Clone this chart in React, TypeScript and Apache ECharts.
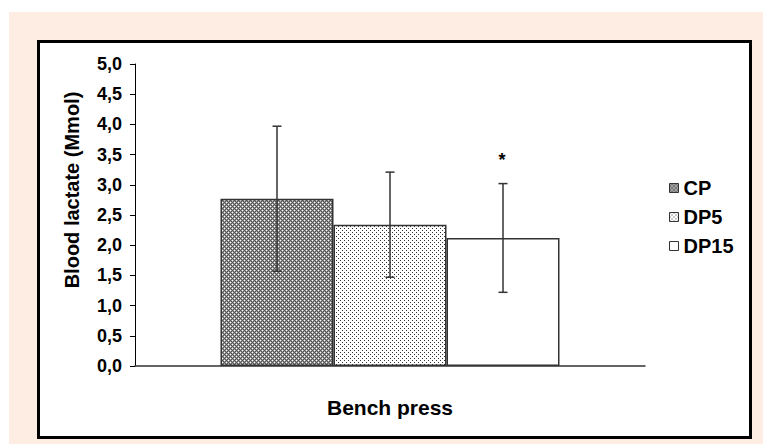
import React, { useEffect, useRef } from "react";
import * as echarts from "echarts";

const categories = ["Bench press"];
const seriesNames = ["CP", "DP5", "DP15"];
const means = [2.77, 2.34, 2.12];
const sds = [1.2, 0.87, 0.9];
const significance = ["", "", "*"];
const yMin = 0;
const yMax = 5;
const yInterval = 0.5;

const BAR_W = 113;
const FONT = '"Liberation Sans", Arial, sans-serif';

function makePattern(size: number, pix: (x: number, y: number) => string) {
  const c = document.createElement("canvas");
  c.width = size;
  c.height = size;
  const ctx = c.getContext("2d")!;
  for (let y = 0; y < size; y++) {
    for (let x = 0; x < size; x++) {
      ctx.fillStyle = pix(x, y);
      ctx.fillRect(x, y, 1, 1);
    }
  }
  return { image: c, repeat: "repeat", imageWidth: size, imageHeight: size } as any;
}

export default function App() {
  const ref = useRef<HTMLDivElement>(null);
  useEffect(() => {
    if (!ref.current) return;
    const chart = echarts.init(ref.current, null, { renderer: "svg" });

    const cpFill = makePattern(4, (x, y) => {
      const isW = (x === 0 && y === 0) || (x === 2 && y === 2);
      if (isW) return "#ffffff";
      const nb =
        (y === 0 && (x === 1 || x === 3)) ||
        (x === 0 && (y === 1 || y === 3)) ||
        (y === 2 && (x === 1 || x === 3)) ||
        (x === 2 && (y === 1 || y === 3));
      return nb ? "#999999" : "#555555";
    });
    const dp5Fill = makePattern(4, (x, y) => {
      if ((x === 0 && y === 0) || (x === 2 && y === 2)) return "#333333";
      return "#ffffff";
    });
    const fills = [cpFill, dp5Fill, "#ffffff"];

    const bars = seriesNames.map((name, i) => ({
      type: "bar",
      name,
      data: [means[i]],
      barWidth: BAR_W,
      barGap: "0%",
      itemStyle: { color: fills[i], borderColor: "#333333", borderWidth: 1.5 },
      z: 2,
    }));

    const errData = seriesNames.map((_, i) => [0, means[i] - sds[i], means[i] + sds[i], i]);

    const errSeries = {
      type: "custom",
      data: errData,
      z: 10,
      silent: true,
      renderItem: (params: any, api: any) => {
        const k = api.value(3);
        const lo = api.coord([api.value(0), api.value(1)]);
        const hi = api.coord([api.value(0), api.value(2)]);
        const x = lo[0] + (k - 1) * BAR_W;
        const style = { stroke: "#333333", lineWidth: 1.5 };
        const cap = 4.5;
        const children: any[] = [
          { type: "line", shape: { x1: x, y1: lo[1], x2: x, y2: hi[1] }, style },
          { type: "line", shape: { x1: x - cap, y1: lo[1], x2: x + cap, y2: lo[1] }, style },
          { type: "line", shape: { x1: x - cap, y1: hi[1], x2: x + cap, y2: hi[1] }, style },
        ];
        if (significance[k]) {
          children.push({
            type: "text",
            x: x - 1,
            y: hi[1] - 24,
            style: {
              text: significance[k],
              font: `bold 18px ${FONT}`,
              fill: "#000",
              align: "center",
              verticalAlign: "middle",
            },
          });
        }
        return { type: "group", children };
      },
    };

    chart.setOption({
      animation: false,
      backgroundColor: "transparent",
      grid: { left: 135, right: 118, top: 64, bottom: 78, containLabel: false },
      legend: {
        data: seriesNames,
        orient: "vertical",
        left: 664,
        top: 173,
        itemWidth: 9,
        itemHeight: 9,
        itemGap: 9,
        icon: "rect",
        textStyle: { fontFamily: FONT, fontWeight: "bold", fontSize: 20, color: "#000" },
        itemStyle: { borderWidth: 1, borderColor: "#333" },
      },
      xAxis: {
        type: "category",
        data: categories,
        axisTick: { show: false },
        axisLine: { lineStyle: { color: "#333", width: 1.5 } },
        axisLabel: {
          margin: 31,
          fontFamily: FONT,
          fontWeight: "bold",
          fontSize: 21,
          color: "#000",
        },
      },
      yAxis: {
        type: "value",
        min: yMin,
        max: yMax,
        interval: yInterval,
        name: "Blood lactate (Mmol)",
        nameLocation: "middle",
        nameGap: 53,
        nameTextStyle: {
          fontFamily: FONT,
          fontWeight: "bold",
          fontSize: 20,
          color: "#000",
          padding: [0, 0, 0, 50],
        },
        axisLine: { show: true, lineStyle: { color: "#000", width: 1 } },
        axisTick: { show: true, length: 5, lineStyle: { color: "#000" } },
        splitLine: { show: false },
        axisLabel: {
          margin: 13,
          fontFamily: FONT,
          fontWeight: "bold",
          fontSize: 18,
          color: "#000",
          formatter: (v: number) => v.toFixed(1).replace(".", ","),
        },
      },
      series: [...bars, errSeries],
    } as any);

    return () => chart.dispose();
  }, []);

  return (
    <div style={{ position: "absolute", left: 0, top: 0, width: 763, height: 444, background: "#ffffff" }}>
      <div style={{ position: "absolute", left: 9, top: 12, width: 754, height: 432, background: "#fdede3" }} />
      <div
        style={{
          position: "absolute",
          left: 37,
          top: 40,
          width: 715,
          height: 399,
          background: "#ffffff",
          border: "3px solid #000",
          boxSizing: "border-box",
        }}
      />
      <div ref={ref} style={{ position: "absolute", left: 0, top: 0, width: 763, height: 444 }} />
    </div>
  );
}
